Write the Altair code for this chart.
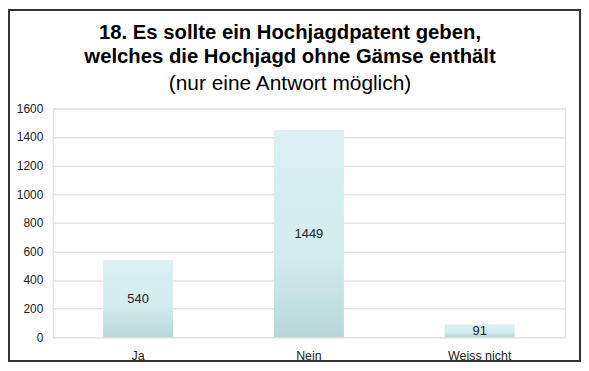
import altair as alt
import pandas as pd

categories = ["Ja", "Nein", "Weiss nicht"]
counts = [540, 1449, 91]
y_ticks = [0, 200, 400, 600, 800, 1000, 1200, 1400, 1600]
title_lines = ["18. Es sollte ein Hochjagdpatent geben,", "welches die Hochjagd ohne Gämse enthält"]
subtitle_text = "(nur eine Antwort möglich)"

df = pd.DataFrame({"cat": categories, "n": counts})

FONT = "Liberation Sans"
W, H = 515, 230

x_axis = alt.Axis(labelAngle=0, ticks=False, domain=False, labelFontSize=12.5,
                  labelColor="#222222", labelPadding=12, labelFont=FONT)
y_axis = alt.Axis(values=y_ticks, ticks=False, domain=False, grid=True,
                  gridColor="#e3e3e3", gridWidth=1.5, labelPadding=10,
                  labelOverlap=False, format="d",
                  labelFontSize=12, labelColor="#222222", labelFont=FONT)
x_scale = alt.Scale(paddingInner=0.59, paddingOuter=0.295)
y_scale = alt.Scale(domain=[0, 1600])

grad = alt.LinearGradient(
    gradient="linear",
    stops=[alt.GradientStop(color="#dbf0f3", offset=0),
           alt.GradientStop(color="#d3ecee", offset=0.6),
           alt.GradientStop(color="#b8d7d8", offset=1)],
    x1=0, x2=0, y1=0, y2=1,
)

bars = alt.Chart(df).mark_bar(color=grad).encode(
    x=alt.X("cat:N", sort=categories, title=None, scale=x_scale, axis=x_axis),
    y=alt.Y("n:Q", title=None, scale=y_scale, axis=y_axis),
)

labels = alt.Chart(df).transform_calculate(mid="datum.n / 2").mark_text(
    fontSize=13, color="#222222", font=FONT
).encode(
    x=alt.X("cat:N", sort=categories, title=None, scale=x_scale, axis=x_axis),
    y=alt.Y("mid:Q", title=None, scale=y_scale, axis=y_axis),
    text=alt.Text("n:Q"),
)

border = alt.Chart(alt.Data(values=[{"a": 1}])).mark_rect(
    fillOpacity=0, stroke="#333333", strokeWidth=2
).encode(
    x=alt.value(-44), x2=alt.value(530), y=alt.value(-99), y2=alt.value(254)
)

chart = alt.layer(bars, labels, border).properties(
    width=W, height=H,
    padding=0,
    title=alt.TitleParams(
        text=title_lines, subtitle=subtitle_text, anchor="middle", dx=-19,
        font=FONT, fontSize=20.4, fontWeight="bold", color="#000000", lineHeight=24,
        subtitleFont=FONT, subtitleFontSize=21, subtitleFontWeight="normal",
        subtitleColor="#000000", subtitleLineHeight=24, subtitlePadding=6.5, offset=-86,
    ),
).configure_view(stroke=None).configure(background="white")

chart.save("out.html", embed_options={"renderer": "svg", "actions": False})
